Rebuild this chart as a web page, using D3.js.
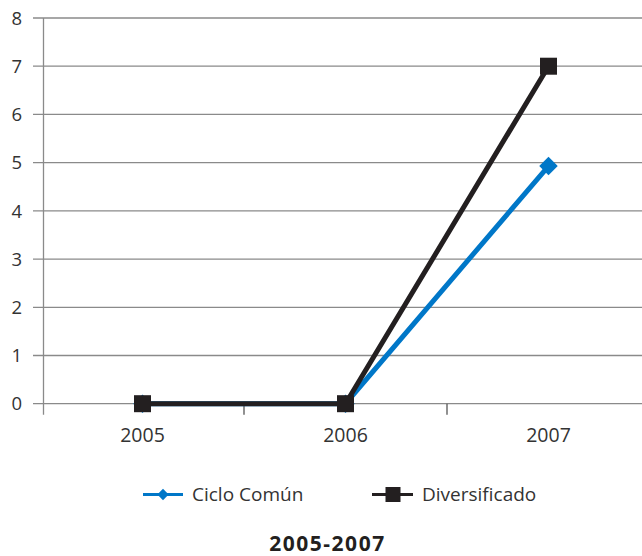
<!DOCTYPE html>
<html><head><meta charset="utf-8">
<script src="https://cdn.jsdelivr.net/npm/d3@7"></script>
<style>body{margin:0;background:#fff}svg{display:block}</style>
</head><body>
<svg id="c" width="642" height="556"></svg>
<script>
const categories = ["2005","2006","2007"];
const cicloComun = [0, 0, 4.93];
const diversificado = [0, 0, 7];
const yTicks = [0,1,2,3,4,5,6,7,8];
const seriesNames = ["Ciclo Común","Diversificado"];
const title = "2005-2007";

(function(){
const svg = d3.select("#c");
const font = "'Open Sans', 'Noto Sans', sans-serif";
const axisX = 43.5, pTop = 18, pBottom = 403.7;
const x = d3.scaleBand().domain(categories).range([41, 650]);
const y = d3.scaleLinear().domain([0, 8]).range([pBottom, pTop]);
const gridColor = "#8a8a8a", textColor = "#333";

svg.append("g").selectAll("line").data(yTicks).join("line")
  .attr("x1", 33).attr("x2", 642)
  .attr("y1", d => y(d)).attr("y2", d => y(d))
  .attr("stroke", gridColor).attr("stroke-width", 1.3);

svg.append("line").attr("x1", axisX).attr("x2", axisX).attr("y1", pTop).attr("y2", pBottom + 11)
  .attr("stroke", gridColor).attr("stroke-width", 1.3);
svg.append("g").selectAll("line").data(categories.slice(1)).join("line")
  .attr("x1", d => x(d)).attr("x2", d => x(d))
  .attr("y1", pBottom).attr("y2", pBottom + 11)
  .attr("stroke", "#555").attr("stroke-width", 1.3);

svg.append("g").selectAll("text").data(yTicks).join("text")
  .attr("x", 22).attr("y", d => y(d)).attr("dy", "0.36em")
  .attr("text-anchor", "end").attr("font-family", font).attr("font-size", 18.5)
  .attr("fill", textColor).text(d => d);
svg.append("g").selectAll("text").data(categories).join("text")
  .attr("x", d => x(d) + x.bandwidth()/2).attr("y", 442)
  .attr("text-anchor", "middle").attr("font-family", font).attr("font-size", 19.5)
  .attr("fill", textColor).text(d => d);

const blue = "#0077c8", black = "#231f20";
const line = d3.line().x((d,i) => x(categories[i]) + x.bandwidth()/2).y(d => y(d));

svg.append("path").datum(cicloComun).attr("d", line).attr("fill","none")
  .attr("stroke", blue).attr("stroke-width", 5);
svg.append("g").selectAll("path").data(cicloComun).join("path")
  .attr("d", d3.symbol().type(d3.symbolSquare).size(170))
  .attr("transform", (d,i) => `translate(${x(categories[i]) + x.bandwidth()/2},${y(d)}) rotate(45)`)
  .attr("fill", blue);

svg.append("path").datum(diversificado).attr("d", line).attr("fill","none")
  .attr("stroke", black).attr("stroke-width", 5);
svg.append("g").selectAll("rect").data(diversificado).join("rect")
  .attr("x", (d,i) => x(categories[i]) + x.bandwidth()/2 - 8.5)
  .attr("y", d => y(d) - 8.5).attr("width", 17).attr("height", 17)
  .attr("fill", black);

const ly = 494.5;
const lg = svg.append("g");
lg.append("line").attr("x1",143).attr("x2",183).attr("y1",ly).attr("y2",ly).attr("stroke",blue).attr("stroke-width",3);
lg.append("path").attr("d", d3.symbol().type(d3.symbolSquare).size(64)).attr("transform",`translate(163,${ly}) rotate(45)`).attr("fill",blue);
lg.append("text").attr("x",192).attr("y",ly).attr("dy","0.36em").attr("font-family",font).attr("font-size",19).attr("fill",textColor).text(seriesNames[0]);
lg.append("line").attr("x1",372).attr("x2",413).attr("y1",ly).attr("y2",ly).attr("stroke",black).attr("stroke-width",3);
lg.append("rect").attr("x",385.5).attr("y",ly-7.5).attr("width",15).attr("height",15).attr("fill",black);
lg.append("text").attr("x",422).attr("y",ly).attr("dy","0.36em").attr("font-family",font).attr("font-size",19).attr("fill",textColor).text(seriesNames[1]);

svg.append("text").attr("x",327.5).attr("y",550.5).attr("text-anchor","middle")
  .attr("font-family",font).attr("font-size",21).attr("font-weight","bold").attr("letter-spacing",1.5)
  .attr("fill","#231f20").text(title);
})();
</script>
</body></html>
